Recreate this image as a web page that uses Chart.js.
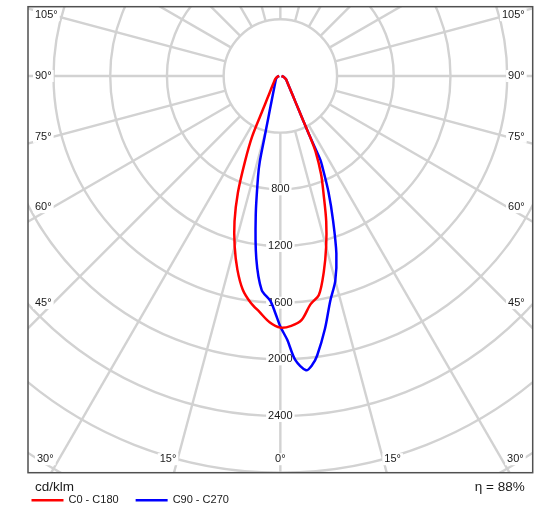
<!DOCTYPE html>
<html>
<head>
<meta charset="utf-8">
<script src="https://cdn.jsdelivr.net/npm/chart.js@4.4.0/dist/chart.umd.min.js"></script>
<style>
  html, body { margin: 0; padding: 0; background: #fff; }
  canvas { display: block; }
</style>
</head>
<body>
<canvas id="polar" width="551" height="511"></canvas>
<script>
// gamma = angle from nadir (deg), values in cd/klm, one pair of arrays per half plane
const gammaC0 = [0, 2.5, 5, 7.5, 10, 12.5, 15, 17.5, 20, 22.5, 25, 26, 27.5, 30, 35, 40, 50, 60, 75, 90];
const intC0 = [1776, 1765, 1728, 1626, 1568, 1416, 1248, 1076, 894, 751, 587, 478, 326, 217, 130, 93, 61, 46, 25, 8];

const gammaC180 = [0, 2.5, 5, 7.5, 10, 12.5, 15, 17.5, 20, 22.5, 25, 27.5, 30, 35, 40, 50, 60, 75, 90];
const intC180 = [1776, 1740, 1673, 1612, 1530, 1400, 1245, 1075, 875, 650, 470, 265, 184, 115, 85, 55, 40, 22, 8];

const gammaC90 = [0, 1.5, 3, 5, 6.3, 7.5, 10, 12.5, 15, 17.5, 20, 22.5, 25, 25.5, 26, 27.5, 30, 35, 40, 50, 60, 75, 90];
const intC90 = [1769, 1863, 2006, 2085, 2051, 1990, 1812, 1626, 1497, 1314, 1088, 888, 694, 656, 478, 326, 217, 130, 93, 61, 46, 25, 8];

const gammaC270 = [0, 1.2, 2.5, 5, 7.5, 10, 12.5, 13.5, 14.5, 16, 19, 22, 26, 30, 40, 50, 60, 75, 90];
const intC270 = [1769, 1675, 1590, 1515, 1300, 1000, 727, 620, 444, 310, 194, 141, 103, 82, 55, 42, 33, 20, 8];

const ringValues = [400, 800, 1200, 1600, 2000, 2400, 2800, 3200, 3600];
const ringLabels = [800, 1200, 1600, 2000, 2400];
const sideAngles = [45, 60, 75, 90, 105];
const bottomAngles = [0, 15, 30];
const seriesNames = ['C0 - C180', 'C90 - C270'];
const unitText = 'cd/klm';
const etaText = 'η = 88%';

const FONT = '"Liberation Sans", Arial, Helvetica, sans-serif';

// polar (gamma, I) -> x/y in cd/klm, sign picks the side
function half(gammas, values, sign) {
  return gammas.map((g, i) => {
    const t = g * Math.PI / 180;
    return { x: sign * values[i] * Math.sin(t), y: -values[i] * Math.cos(t) };
  });
}

function curve(leftG, leftI, rightG, rightI) {
  const left = half(leftG, leftI, -1).reverse();
  const right = half(rightG, rightI, 1).slice(1);
  return left.concat(right);
}

function boxedText(ctx, text, x, y, align) {
  const w = ctx.measureText(text).width;
  const left = align === 'left' ? x : align === 'right' ? x - w : x - w / 2;
  ctx.fillStyle = '#fff';
  ctx.fillRect(left - 2, y - 6, w + 4, 12);
  ctx.fillStyle = '#1a1a1a';
  ctx.textAlign = align;
  ctx.textBaseline = 'middle';
  ctx.fillText(text, x, y);
}

const polarGrid = {
  id: 'polarGrid',
  beforeDatasetsDraw(chart) {
    const { ctx, chartArea: a, scales: { x, y } } = chart;
    const cx = x.getPixelForValue(0), cy = y.getPixelForValue(0);
    const px = v => x.getPixelForValue(v), py = v => y.getPixelForValue(v);

    ctx.save();
    ctx.beginPath();
    ctx.rect(a.left, a.top, a.right - a.left, a.bottom - a.top);
    ctx.clip();
    ctx.strokeStyle = '#d2d2d2';
    ctx.lineWidth = 2.4;

    ringValues.forEach(v => {
      ctx.beginPath();
      ctx.ellipse(cx, cy, px(v) - cx, cy - py(v), 0, 0, Math.PI * 2);
      ctx.stroke();
    });

    for (let g = 0; g < 360; g += 15) {
      const t = g * Math.PI / 180;
      const r0 = ringValues[0], r1 = 6000;
      ctx.beginPath();
      ctx.moveTo(px(r0 * Math.sin(t)), py(-r0 * Math.cos(t)));
      ctx.lineTo(px(r1 * Math.sin(t)), py(-r1 * Math.cos(t)));
      ctx.stroke();
    }

    ctx.font = '11px ' + FONT;
    ringLabels.forEach(v => boxedText(ctx, String(v), cx, py(-v), 'center'));

    sideAngles.forEach(g => {
      const t = g * Math.PI / 180;
      const hitL = cy + (cx - a.left) / Math.tan(t);
      const hitR = cy + (a.right - cx) / Math.tan(t);
      boxedText(ctx, g + '°', a.left + 7, cy + 0.9 * (hitL - cy), 'left');
      boxedText(ctx, g + '°', a.right - 8, cy + 0.9 * (hitR - cy), 'right');
    });

    bottomAngles.forEach(g => {
      const off = (a.bottom - cy) * Math.tan(g * Math.PI / 180);
      const yy = a.bottom - 13.5;
      if (g === 0) {
        boxedText(ctx, g + '°', cx, yy, 'center');
      } else {
        boxedText(ctx, g + '°', cx - off - 6, yy, 'center');
        boxedText(ctx, g + '°', cx + off + 6, yy, 'center');
      }
    });
    ctx.restore();
  },
  afterDatasetsDraw(chart) {
    const { ctx, chartArea: a } = chart;
    ctx.save();
    ctx.strokeStyle = '#505050';
    ctx.lineWidth = 1.5;
    ctx.strokeRect(a.left, a.top, a.right - a.left, a.bottom - a.top);
    ctx.restore();
  },
  afterDraw(chart) {
    const { ctx, chartArea: a } = chart;
    ctx.save();
    ctx.fillStyle = '#1a1a1a';
    ctx.textBaseline = 'middle';
    ctx.font = '13.5px ' + FONT;
    ctx.textAlign = 'left';
    ctx.fillText(unitText, a.left + 7, a.bottom + 15);
    ctx.textAlign = 'right';
    ctx.fillText(etaText, a.right - 8, a.bottom + 15);

    // legend
    ctx.font = '11px ' + FONT;
    ctx.textAlign = 'left';
    let lx = a.left + 3.5;
    const ly = a.bottom + 27.5;
    chart.data.datasets.forEach(ds => {
      ctx.strokeStyle = ds.borderColor;
      ctx.lineWidth = 2.5;
      ctx.beginPath();
      ctx.moveTo(lx, ly);
      ctx.lineTo(lx + 32, ly);
      ctx.stroke();
      ctx.fillStyle = '#1a1a1a';
      ctx.fillText(ds.label, lx + 37, ly);
      lx += 37 + ctx.measureText(ds.label).width + 17;
    });
    ctx.restore();
  }
};

new Chart(document.getElementById('polar').getContext('2d'), {
  type: 'scatter',
  data: {
    datasets: [{
      label: seriesNames[0],
      data: curve(gammaC180, intC180, gammaC0, intC0),
      borderColor: '#ff0000',
      borderWidth: 2.5,
      showLine: true,
      pointRadius: 0,
      tension: 0.3
    }, {
      label: seriesNames[1],
      data: curve(gammaC270, intC270, gammaC90, intC90),
      borderColor: '#0000ff',
      borderWidth: 2.5,
      showLine: true,
      pointRadius: 0,
      tension: 0.3
    }]
  },
  options: {
    responsive: false,
    animation: false,
    devicePixelRatio: 1,
    layout: { padding: { left: 28, top: 6.7, right: 18.3, bottom: 38.3 } },
    scales: {
      x: { type: 'linear', min: -1780, max: 1780, display: false },
      y: { type: 'linear', min: -2800, max: 489, display: false }
    },
    plugins: { legend: { display: false }, tooltip: { enabled: false } }
  },
  plugins: [polarGrid]
});
</script>
</body>
</html>
